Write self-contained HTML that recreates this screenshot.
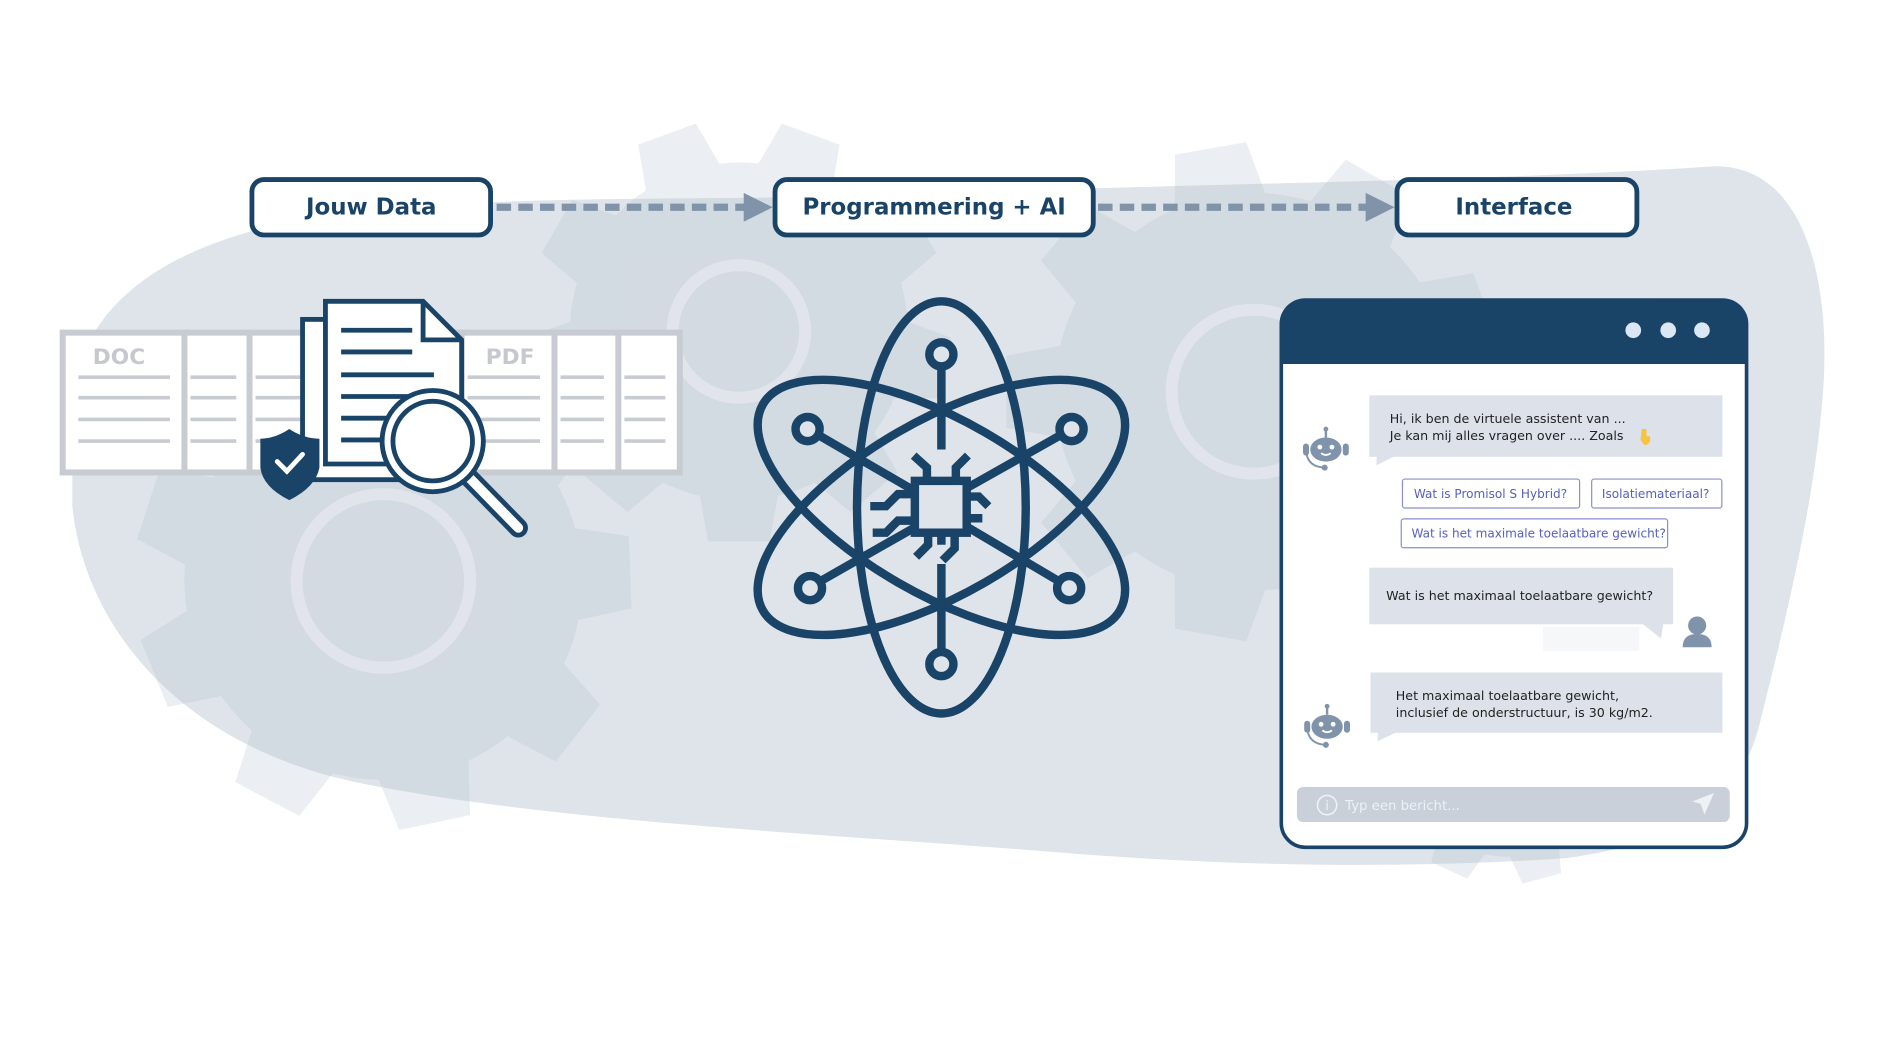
<!DOCTYPE html>
<html><head><meta charset="utf-8"><style>
html,body{margin:0;padding:0;background:#fff;}
svg{display:block;}
text{font-family:"DejaVu Sans","Liberation Sans",sans-serif;}
</style></head><body>
<svg width="1890" height="1063" viewBox="0 0 1568 882" preserveAspectRatio="none" xmlns="http://www.w3.org/2000/svg">
<defs>
<g id="gear">
  <circle r="165"/>
  <path id="tooth" d="M-40 -150 L-30 -205 L30 -205 L40 -150 Z"/>
  <use href="#tooth" transform="rotate(40)"/>
  <use href="#tooth" transform="rotate(80)"/>
  <use href="#tooth" transform="rotate(120)"/>
  <use href="#tooth" transform="rotate(160)"/>
  <use href="#tooth" transform="rotate(200)"/>
  <use href="#tooth" transform="rotate(240)"/>
  <use href="#tooth" transform="rotate(280)"/>
  <use href="#tooth" transform="rotate(320)"/>
</g>
<g id="robot" fill="#7f93ab">
  <ellipse cx="0" cy="2" rx="13" ry="10"/>
  <rect x="-19" y="-3" width="5" height="10" rx="2.5"/>
  <rect x="14" y="-3" width="5" height="10" rx="2.5"/>
  <line x1="0" y1="-8" x2="0" y2="-15" stroke="#7f93ab" stroke-width="2"/>
  <circle cx="0" cy="-15" r="2"/>
  <path d="M-16 6 Q-14 16 -2 17" stroke="#7f93ab" stroke-width="1.6" fill="none"/>
  <circle cx="-1" cy="17" r="2.5"/>
  <circle cx="-5" cy="0" r="2" fill="#fff"/>
  <circle cx="5" cy="0" r="2" fill="#fff"/>
  <path d="M-4 5 Q0 8 4 5" stroke="#fff" stroke-width="1.5" fill="none"/>
</g>
</defs>

<!-- blob -->
<path d="M60 330 C70 240 160 190 300 175 C460 160 600 168 800 160 C1000 152 1250 150 1420 138 C1500 135 1520 240 1512 330 C1505 420 1480 520 1460 600 C1440 680 1380 700 1300 712 C1150 722 1000 718 850 705 C650 690 450 680 300 650 C150 620 70 520 60 420 Z" fill="#dfe4ea"/>

<!-- gears -->
<g fill="#a9b8ca">
  <use href="#gear" opacity="0.22" transform="translate(318,482) rotate(8)"/>
  <use href="#gear" opacity="0.22" transform="translate(613,275) scale(0.85) rotate(20)"/>
  <use href="#gear" opacity="0.22" transform="translate(1040,325) rotate(-10)"/>
  <use href="#gear" opacity="0.22" transform="translate(1250,620) scale(0.55) rotate(5)"/>
</g>
<g fill="none" stroke="#e2e6ec" stroke-width="10" opacity="0.9">
  <circle cx="318" cy="482" r="72"/>
  <circle cx="613" cy="275" r="55"/>
  <circle cx="1040" cy="325" r="68"/>
</g>

<!-- header boxes -->
<g stroke="#1a4368" stroke-width="4" fill="#fff">
  <rect x="209" y="149" width="198" height="46" rx="10"/>
  <rect x="643" y="149" width="264" height="46" rx="10"/>
  <rect x="1159" y="149" width="199" height="46" rx="10"/>
</g>
<g fill="#1a4368" font-weight="bold" font-size="19" text-anchor="middle">
  <text x="308" y="178">Jouw Data</text>
  <text x="775" y="178">Programmering + AI</text>
  <text x="1256" y="178">Interface</text>
</g>
<g stroke="#8093a8" stroke-width="6" stroke-dasharray="12 6">
  <line x1="412" y1="172" x2="618" y2="172"/>
  <line x1="911" y1="172" x2="1134" y2="172"/>
</g>
<g fill="#8093a8">
  <polygon points="617,160 641,172 617,184"/>
  <polygon points="1133,160 1157,172 1133,184"/>
</g>

<!-- doc grid -->
<rect x="52" y="276" width="512" height="116" fill="#fff" stroke="#c8ccd2" stroke-width="5"/>
<g stroke="#c8ccd2" stroke-width="5">
  <line x1="153" y1="276" x2="153" y2="392"/>
  <line x1="207" y1="276" x2="207" y2="392"/>
  <line x1="383" y1="276" x2="383" y2="392"/>
  <line x1="460" y1="276" x2="460" y2="392"/>
  <line x1="513" y1="276" x2="513" y2="392"/>
</g>
<g stroke="#c8ccd2" stroke-width="3">
  <path d="M65 313H141M158 313H196M212 313H250M388 313H448M465 313H501M518 313H552"/>
  <path d="M65 330H141M158 330H196M212 330H250M388 330H448M465 330H501M518 330H552"/>
  <path d="M65 348H141M158 348H196M212 348H250M388 348H448M465 348H501M518 348H552"/>
  <path d="M65 366H141M158 366H196M212 366H250M388 366H448M465 366H501M518 366H552"/>
</g>
<g fill="#c5c9cf" font-weight="bold" font-size="18">
  <text x="77" y="302">DOC</text>
  <text x="403" y="302">PDF</text>
</g>

<!-- document + magnifier -->
<g stroke="#1a4368" stroke-width="4" fill="#fff">
  <rect x="251" y="265" width="110" height="133"/>
  <path d="M270 250 H351 L383 282 V385 H270 Z"/>
  <path d="M351 250 V282 H383" fill="none"/>
</g>
<g stroke="#1a4368" stroke-width="4">
  <path d="M283 274H342M283 292H342M283 311H360M283 329H340M283 347H330M283 365H330"/>
</g>
<line x1="388" y1="395" x2="430" y2="438" stroke="#1a4368" stroke-width="16" stroke-linecap="round"/>
<line x1="388" y1="395" x2="430" y2="438" stroke="#fff" stroke-width="8" stroke-linecap="round"/>
<circle cx="359" cy="366" r="42" fill="#fff" stroke="#1a4368" stroke-width="4"/>
<circle cx="359" cy="366" r="33" fill="#fff" stroke="#1a4368" stroke-width="4"/>
<path d="M240 356 Q252 364 265 364 V388 Q262 404 240 415 Q218 404 216 388 V364 Q228 364 240 356Z" fill="#1a4368"/>
<path d="M230 383 L238 391 L251 377" stroke="#fff" stroke-width="4" fill="none" stroke-linecap="round"/>

<!-- atom -->
<g stroke="#1a4368" stroke-width="7" fill="none">
  <ellipse cx="781" cy="421" rx="70" ry="171"/>
  <ellipse cx="781" cy="421" rx="171" ry="72" transform="rotate(30 781 421)"/>
  <ellipse cx="781" cy="421" rx="171" ry="72" transform="rotate(-30 781 421)"/>
  <line x1="781" y1="303" x2="781" y2="373"/>
  <line x1="781" y1="468" x2="781" y2="541"/>
  <line x1="679" y1="361" x2="760" y2="408"/>
  <line x1="880" y1="361" x2="802" y2="405"/>
  <line x1="681" y1="482" x2="760" y2="437"/>
  <line x1="878" y1="482" x2="802" y2="437"/>
  <circle cx="781" cy="294" r="10" fill="#dfe4ea"/>
  <circle cx="781" cy="551" r="10" fill="#dfe4ea"/>
  <circle cx="670" cy="356" r="10" fill="#dfe4ea"/>
  <circle cx="889" cy="356" r="10" fill="#dfe4ea"/>
  <circle cx="672" cy="488" r="10" fill="#dfe4ea"/>
  <circle cx="887" cy="488" r="10" fill="#dfe4ea"/>
  <rect x="759" y="399" width="43" height="43" stroke-width="7"/>
  <path d="M769 399 V388 L758 378 M793 399 V388 L803 378 M759 410 H745 L735 420 H722 M759 432 H745 L735 442 H724 M802 412 H812 L820 420 M802 430 H815 M781 442 V452 M792 442 V455 L782 465 M770 442 V452 L760 462"/>
</g>

<!-- chat window -->
<rect x="1063" y="249" width="386" height="454" rx="20" fill="#fff" stroke="#1a4368" stroke-width="3"/>
<path d="M1063 302 V268 Q1063 249 1082 249 H1430 Q1449 249 1449 268 V302 Z" fill="#1a4368"/>
<g fill="#dbe7f5">
  <circle cx="1355" cy="274" r="6.5"/>
  <circle cx="1384" cy="274" r="6.5"/>
  <circle cx="1412" cy="274" r="6.5"/>
</g>
<g fill="#dde2ea">
  <rect x="1136" y="328" width="293" height="51"/>
  <polygon points="1142,378 1158,378 1142,386"/>
  <rect x="1136" y="471" width="252" height="47"/>
  <polygon points="1362,517 1380,517 1378,530"/>
  <rect x="1137" y="558" width="292" height="50"/>
  <polygon points="1143,607 1160,607 1143,615"/>
</g>
<rect x="1280" y="520" width="80" height="20" fill="#f6f7f9"/>
<g font-size="10.5" fill="#222">
  <text x="1153" y="351">Hi, ik ben de virtuele assistent van ...</text>
  <text x="1153" y="365">Je kan mij alles vragen over .... Zoals</text>
  <text x="1150" y="498">Wat is het maximaal toelaatbare gewicht?</text>
  <text x="1158" y="581">Het maximaal toelaatbare gewicht,</text>
  <text x="1158" y="595">inclusief de onderstructuur, is 30 kg/m2.</text>
</g>
<path d="M1362 356 h4 v6 l3 0 v4 q-2 4 -5 3 l-3 -4 Z" fill="#f5c542"/>
<g fill="#fff" stroke="#8a8fd0" stroke-width="1">
  <rect x="1163.5" y="397.5" width="147" height="24" rx="2"/>
  <rect x="1320.5" y="397.5" width="108" height="24" rx="2"/>
  <rect x="1162.5" y="430.5" width="221" height="24" rx="2"/>
</g>
<g font-size="10" fill="#5560c0">
  <text x="1173" y="413">Wat is Promisol S Hybrid?</text>
  <text x="1329" y="413">Isolatiemateriaal?</text>
  <text x="1171" y="446">Wat is het maximale toelaatbare gewicht?</text>
</g>
<use href="#robot" transform="translate(1100,371)"/>
<use href="#robot" transform="translate(1101,601)"/>
<g fill="#7f93ab">
  <circle cx="1408" cy="519" r="7.5"/>
  <path d="M1396 537 Q1396 526 1408 526 Q1420 526 1420 537 Z"/>
</g>
<rect x="1076" y="653" width="359" height="29" rx="5" fill="#c9d0da"/>
<circle cx="1101" cy="668" r="8" fill="none" stroke="#eef1f5" stroke-width="1.3"/>
<text x="1101" y="672" font-size="11" fill="#eef1f5" text-anchor="middle" font-family="Liberation Serif,serif">i</text>
<text x="1116" y="672" font-size="11" fill="#eef1f5">Typ een bericht...</text>
<polygon points="1404,665 1422,658 1414,676 1411,667" fill="#eef1f5"/>
</svg>
</body></html>
